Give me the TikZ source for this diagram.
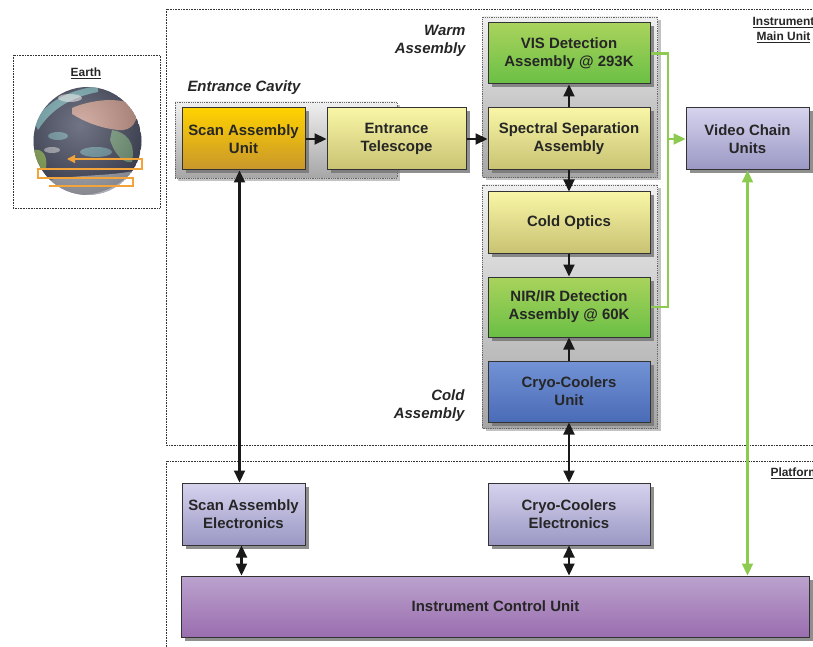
\documentclass[tikz,border=0pt]{standalone}
\usepackage{fontspec}
\setmainfont{Liberation Sans}
\usetikzlibrary{arrows.meta,shadows}
\definecolor{txt}{HTML}{262626}
\definecolor{orangetop}{HTML}{FFD200}
\definecolor{orangebot}{HTML}{C8962C}
\definecolor{yellowtop}{HTML}{F8F6A6}
\definecolor{yellowbot}{HTML}{C9C273}
\definecolor{greentop}{HTML}{A9D35C}
\definecolor{greenbot}{HTML}{6BBF45}
\definecolor{bluetop}{HTML}{7393D6}
\definecolor{bluebot}{HTML}{4A6BB6}
\definecolor{lilactop}{HTML}{D6D3EE}
\definecolor{lilacbot}{HTML}{9A97C4}
\definecolor{purpletop}{HTML}{BBA2CD}
\definecolor{purplebot}{HTML}{9A6EAF}
\definecolor{wire}{HTML}{8CCB50}
\definecolor{scanpath}{HTML}{F2A33A}
\definecolor{sea}{HTML}{4A4E62}
\definecolor{cloud}{HTML}{8CCFD0}
\definecolor{land}{HTML}{C89A8E}
\definecolor{forest}{HTML}{8FAE5E}
\begin{document}
\begin{tikzpicture}[x=1bp, y=-1bp,
      font=\fontsize{15}{18}\selectfont\bfseries,
      >={Triangle[length=12bp,width=11bp]},
      unit/.style={draw=black!80, line width=1bp, text=txt, align=center, inner sep=0pt,
        minimum height=62bp,
        drop shadow={shadow xshift=3.5bp, shadow yshift=-3.5bp, fill=black!55, opacity=.8}},
      orangebox/.style={top color=orangetop, bottom color=orangebot},
      yellowbox/.style={top color=yellowtop, bottom color=yellowbot},
      greenbox/.style={top color=greentop, bottom color=greenbot},
      bluebox/.style={top color=bluetop, bottom color=bluebot},
      lilacbox/.style={top color=lilactop, bottom color=lilacbot},
      purplebox/.style={top color=purpletop, bottom color=purplebot},
      group/.style={draw=black!60, densely dotted, line width=.8bp, inner sep=0pt,
        top color=black!6, bottom color=black!35,
        drop shadow={shadow xshift=3bp, shadow yshift=-3bp, fill=black!40, opacity=.6}},
      frame/.style={draw=black!80, densely dotted, line width=.6bp},
      tag/.style={font=\fontsize{15}{18}\selectfont\bfseries\itshape, text=txt},
      small/.style={font=\fontsize{12}{15}\selectfont\bfseries, text=txt, align=center},
      link/.style={line width=2.2bp, black!90, ->},
      both/.style={line width=2.2bp, black!90, <->},
      gwire/.style={line width=2.2bp, wire}]
      \useasboundingbox (0,0) rectangle (813,647);
      \draw[frame] (13,55) rectangle (160,208);
      \draw[frame] (166,9) rectangle (840,445);
      \draw[frame] (166,461) rectangle (840,680);
      \node[small] (earthlbl) at (86,73) {\underline{Earth}};
      \node[small] (mainlbl) at (783.5,30) {\underline{Instrument}\\\underline{Main Unit}};
      \node[small, anchor=west] (platlbl) at (767,473) {\underline{Platform}};
      \begin{scope}
        \clip (87.5,141) circle (54);
        \fill[sea] (87.5,141) circle (54);
        \fill[cloud, opacity=.75] (34,122) .. controls (48,100) and (70,90) .. (98,86) -- (98,92) .. controls (72,97) and (52,108) .. (38,130) -- cycle;
        \fill[land] (72,108) .. controls (90,100) and (120,96) .. (136,106) .. controls (140,120) and (132,132) .. (118,130) .. controls (100,128) and (85,122) .. (72,114) -- cycle;
        \fill[forest!60!cloud, opacity=.75] (112,130) .. controls (126,132) and (136,142) .. (132,162) .. controls (122,164) and (114,152) .. (110,140) -- cycle;
        \fill[forest] (33,150) .. controls (42,148) and (48,155) .. (46,168) .. controls (40,172) and (35,168) .. (33,160) -- cycle;
        \fill[cloud, opacity=.55] (96,152) ellipse (16 and 5);
        \fill[cloud, opacity=.55] (58,136) ellipse (10 and 4);
        \fill[white, opacity=.6] (70,98) ellipse (12 and 4);
        \fill[white, opacity=.5] (52,150) ellipse (8 and 3);
        \fill[white, opacity=.55] (40,182) .. controls (70,174) and (110,177) .. (138,170) -- (140,200) -- (35,200) -- cycle;
        \shade[inner color=white, outer color=black, opacity=.22] (80,125) circle (70);
      \end{scope}
      \draw[scanpath, line width=1.2bp, -{Triangle[length=8bp,width=8bp]}] (49,186) -- (133,186) -- (133,178) -- (38,178) -- (38,169) -- (142,169) -- (142,159) -- (67,159);
      \node[group, minimum width=222bp, minimum height=76bp] (cavity) at (286,140) {};
      \node[group, minimum width=175bp, minimum height=160bp] (warm) at (570,97) {};
      \node[group, minimum width=175bp, minimum height=243bp] (coldgrp) at (570,306.5) {};
      \node[tag, anchor=west] (cavitylbl) at (184,88) {Entrance Cavity};
      \node[tag, anchor=east, align=right] (warmlbl) at (469,41) {Warm\\Assembly};
      \node[tag, anchor=east, align=right] (coldlbl) at (468,406) {Cold\\Assembly};
      \node[unit, orangebox, minimum width=123bp] (sau) at (243.5,139) {Scan Assembly\\Unit};
      \node[unit, yellowbox, minimum width=139bp] (tel) at (396.5,139) {Entrance\\Telescope};
      \node[unit, greenbox, minimum width=162bp, minimum height=61bp] (vis) at (569,53.5) {VIS Detection\\Assembly @ 293K};
      \node[unit, yellowbox, minimum width=162bp] (spec) at (569,139) {Spectral Separation\\Assembly};
      \node[unit, yellowbox, minimum width=162bp, minimum height=61bp] (optics) at (569,222.5) {Cold Optics};
      \node[unit, greenbox, minimum width=162bp, minimum height=60bp] (nir) at (569,307) {NIR/IR Detection\\Assembly @ 60K};
      \node[unit, bluebox, minimum width=162bp, minimum height=61bp] (cryo) at (569,391.5) {Cryo-Coolers\\Unit};
      \node[unit, lilacbox, minimum width=123bp] (video) at (747.5,139) {Video Chain\\Units};
      \node[unit, lilacbox, minimum width=123bp] (sae) at (243.5,514) {Scan Assembly\\Electronics};
      \node[unit, lilacbox, minimum width=162bp] (cce) at (569,514) {Cryo-Coolers\\Electronics};
      \node[unit, purplebox, minimum width=627bp, minimum height=61bp] (icu) at (495.5,606.5) {Instrument Control Unit};
      \coordinate (bus) at (668,139);
      \draw[link] (sau) -- (tel);
      \draw[link] (tel) -- (spec);
      \draw[link] (spec) -- (vis);
      \draw[link] (spec) -- (optics);
      \draw[link] (optics) -- (nir);
      \draw[link] (cryo) -- (nir);
      \draw[both] ([xshift=-4bp]sau.south) -- ([xshift=-4bp]sae.north);
      \draw[both] (cryo) -- (cce);
      \draw[both] ([xshift=-2bp]sae.south) -- ([xshift=-2bp]sae.south |- icu.north);
      \draw[both] (cce.south) -- (cce.south |- icu.north);
      \draw[gwire] (vis.east) -| (bus) |- (nir.east);
      \draw[gwire, ->] (bus) -- (video);
      \draw[gwire, <->] (video.south) -- (video.south |- icu.north);
    \end{tikzpicture}
\end{document}
